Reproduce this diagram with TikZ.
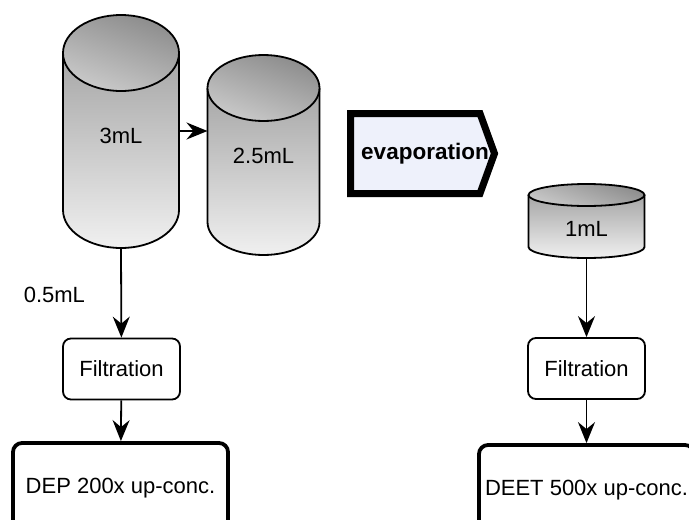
\documentclass[tikz,border=0pt]{standalone}
\usepackage{fontspec}
\setmainfont{Liberation Sans}
\usetikzlibrary{arrows.meta}

\definecolor{capdark}{HTML}{8C8C8C}
\definecolor{caplight}{HTML}{CACACA}
\definecolor{bodydark}{HTML}{A6A6A6}
\definecolor{bodylight}{HTML}{F0F0F0}
\definecolor{evapfill}{HTML}{EEF1FB}

\tikzset{
  tankline/.style={draw=black, line width=1.8pt},
  filtbox/.style={draw, rounded corners=8pt, line width=1.8pt, minimum width=117pt, minimum height=61pt, inner sep=0pt},
  resultbox/.style={draw, rounded corners=9pt, line width=3.8pt, minimum width=215pt, minimum height=90pt, inner sep=0pt},
  flow/.style={-{Stealth[length=21pt, width=17pt, inset=7pt]}, line width=1.8pt},
}

% tank: centre x, top y, bottom y, x radius, y radius
\newcommand{\tank}[5]{%
  \shade[top color=bodydark, bottom color=bodylight]
    (#1-#4,#2) -- (#1-#4,#3) arc[start angle=180, end angle=360, x radius=#4, y radius=#5] -- (#1+#4,#2) -- cycle;
  \draw[tankline]
    (#1-#4,#2) -- (#1-#4,#3) arc[start angle=180, end angle=360, x radius=#4, y radius=#5] -- (#1+#4,#2);
  \shadedraw[top color=capdark, bottom color=caplight, shading angle=-20, tankline]
    (#1,#2) ellipse[x radius=#4, y radius=#5];
}

\begin{document}
\begin{tikzpicture}[x=1pt, y=1pt, font=\fontsize{22}{26}\selectfont]
  \useasboundingbox (0,0) rectangle (689,-520);

  % the three tanks
  \tank{121}{-53}{-210}{58}{38}
  \tank{263.5}{-88}{-222}{56}{33}
  \tank{586.5}{-195}{-247}{58}{11}

  \node (vol3) at (121,-136) {3mL};
  \node (vol25) at (263.5,-156) {2.5mL};
  \node (vol1) at (586.5,-229) {1mL};

  \coordinate (tankA-right) at (179,-131);
  \coordinate (tankA-bot) at (121,-248);
  \coordinate (tankB-left) at (207.5,-131);
  \coordinate (tankC-bot) at (586.5,-258);

  % evaporation step
  \draw[line width=7pt, fill=evapfill, line join=miter]
    (350.5,-113.5) -- (480,-113.5) -- (494.5,-153.5) -- (480,-193.5) -- (350.5,-193.5) -- cycle;
  \node[font=\fontsize{22.5}{27}\selectfont\bfseries] (evap) at (425,-153.5) {evaporation};

  % filtration and results
  \node[filtbox] (filtA) at (121.5,-369) {Filtration};
  \node[filtbox] (filtB) at (586.5,-368.5) {Filtration};
  \node[resultbox] (dep) at (120.5,-488) {DEP 200x up-conc.};
  \node[resultbox] (deet) at (586.5,-490) {DEET 500x up-conc.};

  \draw[flow] (tankA-right) -- (tankB-left);
  \draw[flow] (tankA-bot) -- node[pos=0.52, left=32pt] (split) {0.5mL} (filtA);
  \draw[flow] (filtA) -- (dep);
  \draw[flow] (tankC-bot) -- (filtB);
  \draw[flow] (filtB) -- (deet);
\end{tikzpicture}
\end{document}
